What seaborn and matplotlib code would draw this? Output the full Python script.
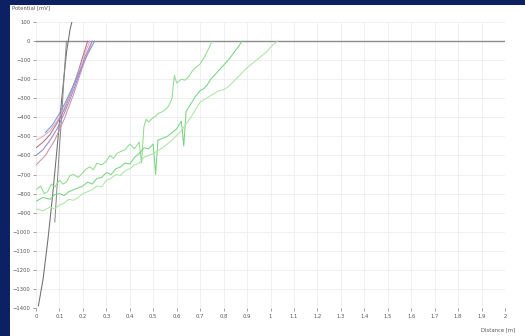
import matplotlib
matplotlib.use("Agg")
import matplotlib.pyplot as plt
from matplotlib.patches import Rectangle
import seaborn as sns
import pandas as pd

# Potential profiles along the measured distance
gray1_x = [0.01, 0.03, 0.05, 0.07, 0.09, 0.11, 0.13, 0.145, 0.155]
gray1_y = [-1390, -1250, -1050, -820, -560, -300, -60, 60, 110]
gray2_x = [0.08, 0.09, 0.10, 0.11, 0.12, 0.13]
gray2_y = [-950, -760, -560, -380, -180, 0]

red_x = [0, 0.03, 0.06, 0.09, 0.12, 0.15, 0.18, 0.20, 0.22]
red_y = [-560, -530, -490, -430, -360, -270, -160, -80, 0]
pink_x = [0, 0.03, 0.06, 0.09, 0.12, 0.15, 0.18, 0.21, 0.23]
pink_y = [-520, -500, -470, -420, -350, -270, -170, -60, 0]
purple_x = [0, 0.03, 0.06, 0.09, 0.12, 0.15, 0.18, 0.21, 0.24]
purple_y = [-600, -570, -520, -460, -380, -290, -190, -80, 0]
blue_x = [0.04, 0.07, 0.10, 0.13, 0.16, 0.19, 0.22, 0.25]
blue_y = [-480, -440, -380, -310, -230, -150, -70, 0]
mauve_x = [0, 0.04, 0.08, 0.12, 0.16, 0.20, 0.24]
mauve_y = [-650, -600, -520, -410, -280, -130, 0]

green1_x = [0, 0.02, 0.035, 0.05, 0.065, 0.08, 0.10, 0.115, 0.13, 0.145, 0.16, 0.18,
            0.20, 0.215, 0.23, 0.245, 0.26, 0.28, 0.30, 0.315, 0.33, 0.345, 0.36, 0.38,
            0.40, 0.42, 0.44, 0.45, 0.46, 0.47, 0.48, 0.50, 0.51, 0.52, 0.54, 0.56, 0.57,
            0.58, 0.59, 0.60, 0.62, 0.635, 0.65, 0.665, 0.68, 0.70, 0.72, 0.74, 0.75]
green1_y = [-780, -760, -800, -790, -750, -765, -730, -750, -740, -705, -700, -715,
            -690, -670, -660, -675, -640, -650, -630, -600, -615, -590, -580, -570,
            -540, -565, -530, -640, -450, -410, -425, -400, -395, -380, -370, -350, -330,
            -300, -180, -220, -200, -205, -190, -160, -140, -120, -80, -30, 0]
green2_x = [0, 0.03, 0.06, 0.08, 0.10, 0.12, 0.14, 0.16, 0.18, 0.20, 0.22, 0.24, 0.26,
            0.28, 0.30, 0.32, 0.34, 0.36, 0.38, 0.40, 0.42, 0.44, 0.46, 0.48,
            0.50, 0.51, 0.52, 0.54, 0.56, 0.58, 0.60, 0.62, 0.63, 0.64, 0.66, 0.68, 0.70,
            0.715, 0.73, 0.745, 0.76, 0.79, 0.82, 0.85, 0.88]
green2_y = [-840, -820, -830, -805, -800, -810, -790, -780, -770, -760, -740, -750, -720,
            -715, -690, -700, -670, -660, -640, -645, -610, -590, -560, -565,
            -540, -700, -520, -510, -500, -480, -460, -420, -550, -370, -330, -290, -260,
            -250, -230, -200, -180, -140, -100, -50, 0]
green3_x = [0, 0.03, 0.06, 0.08, 0.10, 0.12, 0.14, 0.16, 0.18, 0.20, 0.22, 0.24, 0.26,
            0.28, 0.30, 0.32, 0.34, 0.36, 0.38, 0.40, 0.42, 0.44, 0.46, 0.48,
            0.50, 0.54, 0.58, 0.62, 0.66, 0.70, 0.74, 0.78, 0.80, 0.82, 0.84, 0.86, 0.90,
            0.94, 0.98, 1.01, 1.03]
green3_y = [-880, -890, -870, -880, -860, -850, -830, -835, -820, -800, -790, -780, -760,
            -765, -730, -720, -700, -705, -680, -670, -650, -640, -610, -600,
            -590, -560, -520, -470, -400, -320, -290, -260, -255, -240, -215, -190, -140,
            -100, -60, -20, 0]

series = {
    "g1": (gray1_x, gray1_y), "g2": (gray2_x, gray2_y),
    "red": (red_x, red_y), "pink": (pink_x, pink_y), "purple": (purple_x, purple_y),
    "blue": (blue_x, blue_y), "mauve": (mauve_x, mauve_y),
    "gr1": (green1_x, green1_y), "gr2": (green2_x, green2_y), "gr3": (green3_x, green3_y),
}
palette = {
    "g1": "#6e6e6e", "g2": "#8a8a8a",
    "red": "#b0707e", "pink": "#e3a6b8", "purple": "#9a86c8",
    "blue": "#6f97e0", "mauve": "#c990b0",
    "gr1": "#90dc90", "gr2": "#78d482", "gr3": "#acE6a4",
}

frames = [pd.DataFrame({"distance": xs, "potential": ys, "series": name})
          for name, (xs, ys) in series.items()]
df = pd.concat(frames, ignore_index=True)

x_ticks = [round(i * 0.1, 1) for i in range(21)]
x_labels = [("%g" % t) for t in x_ticks]
y_ticks = list(range(-1400, 101, 100))

sns.set_theme(style="whitegrid")
plt.rcParams["font.family"] = ["DejaVu Sans"]

fig = plt.figure(figsize=(5.25, 3.36), dpi=100)
fig.patch.set_facecolor("#0b2163")
fig.patches.append(Rectangle((10 / 525, 0), 1, 1 - 5 / 336, transform=fig.transFigure,
                             facecolor="white", edgecolor="none", zorder=-5))

ax = fig.add_axes([36 / 525, 1 - 308 / 336, (505 - 36) / 525, (308 - 22) / 336])
ax.set_zorder(2)
ax.set_facecolor("white")

sns.lineplot(data=df, x="distance", y="potential", hue="series", palette=palette,
             estimator=None, sort=False, units="series", linewidth=0.75, legend=False, ax=ax)

ax.axhline(0, color="#8c8c8c", linewidth=1.0, zorder=1)

ax.set_xlim(0, 2)
ax.set_ylim(-1400, 100)
ax.set_xticks(x_ticks)
ax.set_xticklabels(x_labels)
ax.set_yticks(y_ticks)
ax.grid(True, color="#ededed", linewidth=0.6)
for s in ax.spines.values():
    s.set_visible(False)
ax.tick_params(axis="both", labelsize=3.8, colors="#555555", length=2, width=0.4,
               direction="out", pad=2)
ax.tick_params(axis="x", bottom=True)
ax.tick_params(axis="y", left=True)
ax.set_xlabel("")
ax.set_ylabel("")

fig.text(12 / 525, 1 - 8 / 336, "Potential [mV]", fontsize=3.8, color="#555555",
         ha="left", va="center")
fig.text(515 / 525, 1 - 330 / 336, "Distance [m]", fontsize=3.8, color="#555555",
         ha="right", va="center")

fig.savefig("out.png", dpi=100)
